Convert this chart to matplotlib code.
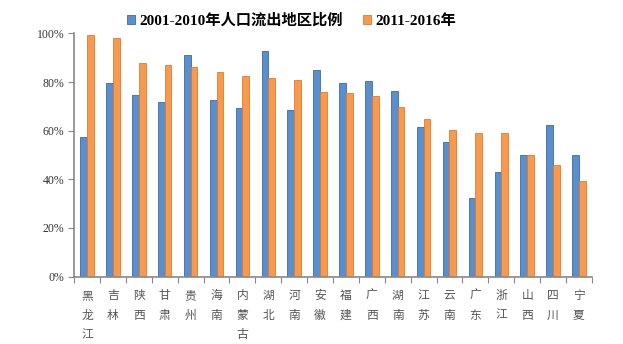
import matplotlib.pyplot as plt
import numpy as np

plt.rcParams['font.family'] = ['Liberation Serif', 'Noto Sans CJK SC', 'DejaVu Sans']

regions = ['黑龙江', '吉林', '陕西', '甘肃', '贵州', '海南', '内蒙古', '湖北', '河南', '安徽',
           '福建', '广西', '湖南', '江苏', '云南', '广东', '浙江', '山西', '四川', '宁夏']
ratio_2001_2010 = [57.3, 79.6, 74.7, 71.8, 91.1, 72.5, 69.4, 92.7, 68.5, 84.9,
                   79.6, 80.3, 76.3, 61.4, 55.2, 32.2, 43.0, 49.9, 62.2, 49.9]
ratio_2011_2016 = [99.3, 97.9, 87.8, 86.8, 86.2, 84.0, 82.3, 81.6, 80.7, 75.7,
                   75.3, 74.4, 69.6, 64.9, 60.4, 58.9, 58.9, 49.9, 46.0, 39.2]
legend_labels = ['2001-2010年人口流出地区比例', '2011-2016年']

fig = plt.figure(figsize=(6.23, 3.44), dpi=100)
ax = fig.add_axes([0.119, 0.196, 0.831, 0.707])

x = np.arange(len(regions))
w = 0.26
ax.bar(x - w / 2, ratio_2001_2010, w, color='#5A8FCB', edgecolor='#3A6CA6', linewidth=0.6,
       label=legend_labels[0])
ax.bar(x + w / 2, ratio_2011_2016, w, color='#F79A50', edgecolor='#E07A2E', linewidth=0.6,
       label=legend_labels[1])

ax.set_xlim(-0.5, len(regions) - 0.5)
ax.set_ylim(0, 100)
ax.set_yticks(range(0, 101, 20))
ax.set_yticklabels([f'{v}%' for v in range(0, 101, 20)], fontsize=8.5, color='#333333')

# category boundaries as ticks, names as minor labels in the centre
ax.set_xticks(np.arange(-0.5, len(regions), 1.0))
ax.set_xticklabels([])
ax.set_xticks(x, minor=True)
ax.set_xticklabels(['\n'.join(r) for r in regions], minor=True, fontsize=8.5,
                   color='#555555', va='top', linespacing=1.65,
                   family=['Noto Sans CJK SC'])
ax.tick_params(axis='x', which='major', direction='out', length=4, color='#888888')
ax.tick_params(axis='x', which='minor', length=0, pad=9)
ax.tick_params(axis='y', direction='out', length=4, color='#888888', pad=3)

for s in ['top', 'right']:
    ax.spines[s].set_visible(False)
for s in ['left', 'bottom']:
    ax.spines[s].set_color('#888888')
    ax.spines[s].set_linewidth(1.2)

fig.legend(loc='upper center', bbox_to_anchor=(0.468, 1.0), ncol=2, frameon=False,
           handlelength=0.5, handleheight=0.5, handletextpad=0.3, columnspacing=1.3,
           prop={'family': ['Liberation Serif', 'Noto Sans CJK SC'], 'weight': 'bold', 'size': 11})

fig.savefig('out.png', dpi=100)
